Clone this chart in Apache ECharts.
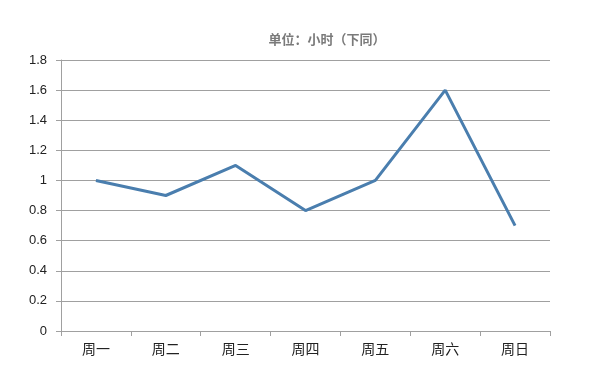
<!DOCTYPE html>
<html><head><meta charset="utf-8">
<script src="https://cdn.jsdelivr.net/npm/echarts@6/dist/echarts.min.js"></script>
<style>html,body{margin:0;padding:0;background:#fff}#c{width:596px;height:387px}</style>
</head><body><div id="c"></div>
<script>
const categories = ['周一','周二','周三','周四','周五','周六','周日'];
const values = [1.0, 0.9, 1.1, 0.8, 1.0, 1.6, 0.7];
const titleText = '单位：小时（下同）';
const chart = echarts.init(document.getElementById('c'));
const font = '"Noto Sans CJK SC", "Microsoft YaHei", sans-serif';
chart.setOption({
  animation: false,
  backgroundColor: '#fff',
  title: { text: titleText, left: 322, top: 28, textAlign: 'center',
    textStyle: { fontSize: 13, fontWeight: 'bold', color: '#7a7a7a', fontFamily: font } },
  grid: { left: 61, right: 46, top: 60, bottom: 56, containLabel: false },
  xAxis: { type: 'category', data: categories, boundaryGap: true,
    axisLine: { lineStyle: { color: '#a0a0a0', width: 1 } },
    axisTick: { show: true, length: 5, alignWithLabel: false, lineStyle: { color: '#a0a0a0' } },
    axisLabel: { color: '#222', fontSize: 14, margin: 11, fontFamily: font },
    splitLine: { show: false } },
  yAxis: { type: 'value', min: 0, max: 1.8, interval: 0.2,
    axisLine: { show: true, lineStyle: { color: '#a0a0a0', width: 1 } },
    axisTick: { show: true, length: 5, lineStyle: { color: '#a0a0a0' } },
    axisLabel: { color: '#222', fontSize: 13, margin: 14, fontFamily: 'Arial, "Liberation Sans", sans-serif',
      formatter: v => String(Math.round(v*10)/10) },
    splitLine: { show: true, lineStyle: { color: '#a0a0a0', width: 1 } } },
  series: [{ type: 'line', data: values, showSymbol: false, symbol: 'none',
    lineStyle: { color: '#4a7eae', width: 3 } }]
});
</script></body></html>
